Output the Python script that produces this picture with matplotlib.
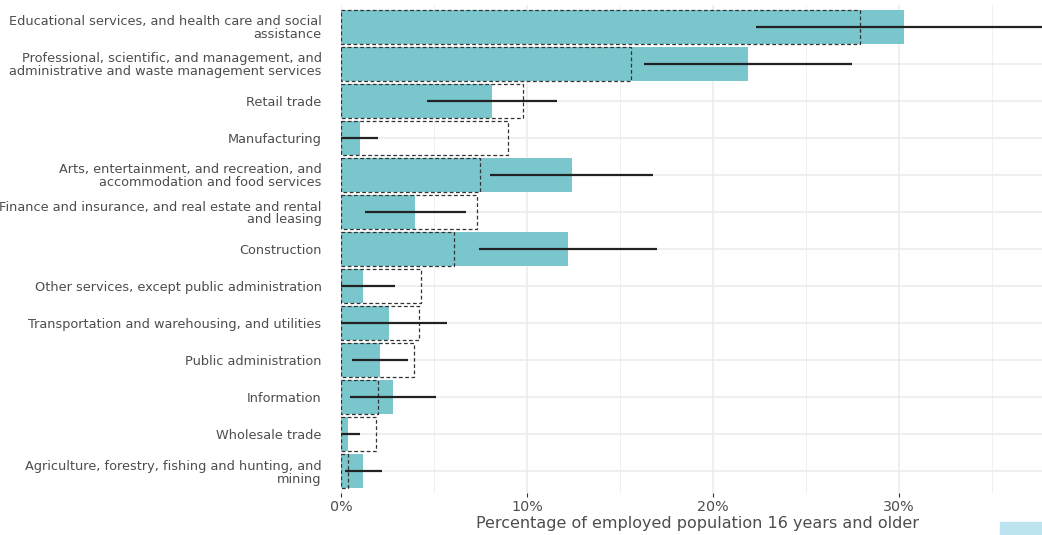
import matplotlib.pyplot as plt
from matplotlib.patches import Rectangle
from matplotlib.ticker import FuncFormatter, MultipleLocator

industries = [
    "Educational services, and health care and social\nassistance",
    "Professional, scientific, and management, and\nadministrative and waste management services",
    "Retail trade",
    "Manufacturing",
    "Arts, entertainment, and recreation, and\naccommodation and food services",
    "Finance and insurance, and real estate and rental\nand leasing",
    "Construction",
    "Other services, except public administration",
    "Transportation and warehousing, and utilities",
    "Public administration",
    "Information",
    "Wholesale trade",
    "Agriculture, forestry, fishing and hunting, and\nmining",
]
# share of employed population (%), local estimate with margin of error
local_pct = [30.3, 21.9, 8.1, 1.0, 12.4, 4.0, 12.2, 1.2, 2.6, 2.1, 2.8, 0.38, 1.2]
local_moe = [8.0, 5.6, 3.5, 1.0, 4.4, 2.7, 4.8, 1.7, 3.1, 1.5, 2.3, 0.63, 1.0]
# comparison share (%), drawn as dashed outline
compare_pct = [27.9, 15.6, 9.8, 9.0, 7.5, 7.3, 6.1, 4.3, 4.2, 3.9, 2.0, 1.9, 0.4]

teal = "#79C6CD"
grey_txt = "#4D4D4D"

fig = plt.figure(figsize=(10.42, 5.35), dpi=100)
ax = fig.add_axes([341 / 1042, 1 - 493.2 / 535, (1053 - 341) / 1042, (493.2 - 4.8) / 535])

ypos = list(range(len(industries)))
ax.barh(ypos, local_pct, height=0.9, color=teal, zorder=2)
ax.barh(ypos, compare_pct, height=0.9, fill=False, edgecolor="#333333",
        linestyle=(0, (3, 2)), linewidth=0.9, zorder=3)
ax.errorbar(local_pct, ypos, xerr=local_moe, fmt="none", ecolor="#222222",
            elinewidth=1.6, capsize=0, zorder=4)

ax.set_ylim(len(industries) - 0.4, -0.6)
ax.set_xlim(0, 38.3)
ax.set_yticks(ypos)
ax.set_yticklabels(industries, fontsize=9.3, color=grey_txt, linespacing=1.0)
ax.xaxis.set_major_locator(MultipleLocator(10))
ax.xaxis.set_minor_locator(MultipleLocator(5))
ax.xaxis.set_major_formatter(FuncFormatter(lambda v, p: f"{v:.0f}%"))
ax.tick_params(axis="x", which="major", labelsize=10.3, labelcolor=grey_txt,
               color="#333333", length=3, width=0.8, pad=2)
ax.tick_params(axis="x", which="minor", length=0)
ax.tick_params(axis="y", length=0, pad=14)

ax.grid(True, which="major", color="#EBEBEB", linewidth=1.1, zorder=0)
ax.grid(True, which="minor", axis="x", color="#F0F0F0", linewidth=0.7, zorder=0)
ax.set_axisbelow(True)
for s in ax.spines.values():
    s.set_visible(False)

ax.set_xlabel("Percentage of employed population 16 years and older",
              fontsize=11.5, color=grey_txt, labelpad=1)

# legend key peeking in at the lower right corner
fig.patches.append(Rectangle((1000 / 1042, 0), 0.05, 13 / 535,
                             transform=fig.transFigure, color="#BEE3F0"))

fig.savefig("out.png", dpi=100)
